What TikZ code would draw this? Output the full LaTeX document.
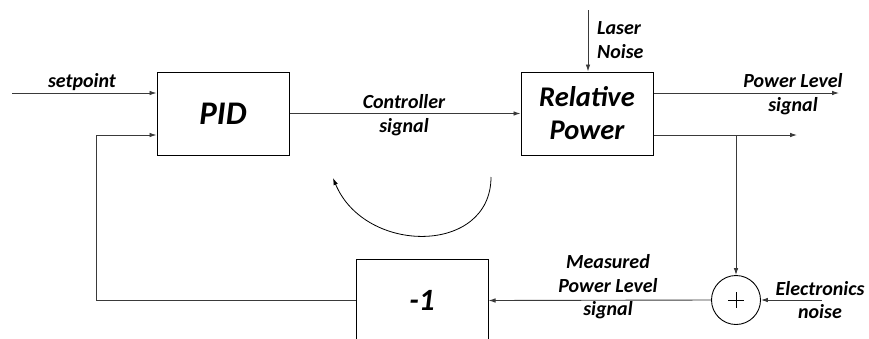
\documentclass[tikz,border=0pt]{standalone}
\usepackage{fontspec}
\setmainfont{Carlito}
\usetikzlibrary{arrows.meta}
\definecolor{wire}{HTML}{3A3A3A}

\begin{document}
\begin{tikzpicture}[x=1pt,y=-1pt,font=\bfseries\itshape\fontsize{20}{23.5}\selectfont,
  block/.style={draw,line width=1pt,minimum width=132pt,minimum height=83pt,align=center},
  bigtext/.style={font=\bfseries\itshape\fontsize{#1}{33}\selectfont},
  sig/.style={draw=wire,line width=0.9pt,-{Latex[length=7pt,width=4.6pt]}},
  lbl/.style={align=center,inner sep=0pt}]
  \useasboundingbox (0,0) rectangle (869,338);
  \clip (0,0) rectangle (869,338);

  % Blocks of the loop; the -1 block runs past the lower edge.
  \node[block,bigtext=33] (pid) at (223,113.5) {PID};
  \node[block,bigtext=28.5] (plant) at (587,113.5) {Relative\\Power};
  \node[block,bigtext=31] (inv) at (422,300.5) {-1};
  \node[draw,circle,line width=0.9pt,minimum size=49pt,inner sep=0pt] (sum) at (736,300) {};
  \draw[line width=0.7pt] (sum.center) ++(-8,0) -- ++(16,0);
  \draw[line width=0.7pt] (sum.center) ++(0,-8) -- ++(0,16);

  % Free ends of the signals.
  \coordinate (setin) at (12,93);
  \coordinate (noisein) at (588,10);
  \coordinate (levelout) at (839,93);
  \coordinate (measout) at (797,135);
  \coordinate (tap) at (736,135);
  \coordinate (elecin) at (822,300);
  \coordinate (fbcorner) at (96,135);
  \coordinate (loopR) at (491,177);
  \coordinate (loopL) at (333,178);

  % Forward path.
  \draw[sig] (setin) -- (setin -| pid.west);
  \draw[sig] (pid) -- (plant);
  \draw[sig] (noisein) -- (noisein |- plant.north);
  \draw[sig] (plant.east |- levelout) -- (levelout);
  \draw[sig] (plant.east |- measout) -- (measout);

  % Measurement and feedback path.
  \draw[sig] (tap) -- (sum.north);
  \draw[sig] (elecin) -- (sum.east);
  \draw[sig] (sum.west) -- (inv.east);
  \draw[sig] (inv.west) -| (fbcorner) -- (fbcorner -| pid.west);

  % Loop direction.
  \draw[line width=0.8pt,-{Latex[length=7pt,width=4.6pt]}] (loopR) .. controls (491,255) and (365,255) .. (loopL);

  \node[lbl] (setlbl) at (82,82) {setpoint};
  \node[lbl] (ctrllbl) at (404,115) {Controller\\signal};
  \node[lbl,anchor=west,align=left] (noiselbl) at (597,40) {Laser\\Noise};
  \node[lbl] (levellbl) at (793,94) {Power Level\\signal};
  \node[lbl] (measlbl) at (608,287) {Measured\\Power Level\\signal};
  \node[lbl] (eleclbl) at (820,300) {Electronics\\noise};
\end{tikzpicture}
\end{document}
